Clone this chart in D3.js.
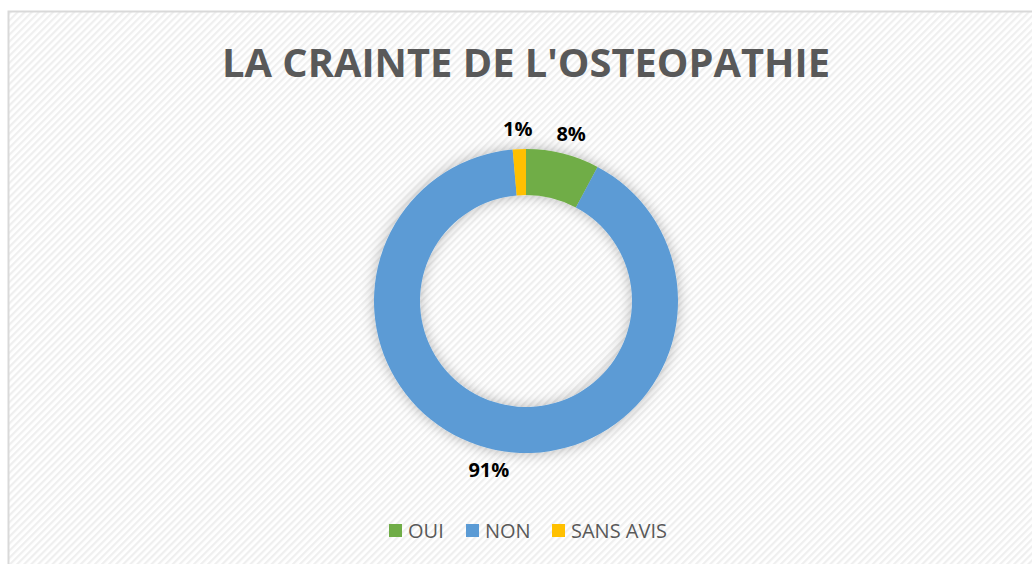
<!DOCTYPE html>
<html>
<head>
<meta charset="utf-8">
<script src="https://cdn.jsdelivr.net/npm/d3@7.9.0/dist/d3.min.js"></script>
<style>
  body { margin: 0; background: #fff; }
  svg { display: block; }
</style>
</head>
<body>
<svg id="chart"></svg>
<script>
let categories = ['OUI', 'NON', 'SANS AVIS'];
let values = [7.8, 90.8, 1.4];
let colors = ['#70ad47', '#5b9bd5', '#ffc000'];
let title = "LA CRAINTE DE L'OSTEOPATHIE";

let W = 1032, H = 564;
let svg = d3.select('#chart').attr('width', W).attr('height', H);

let defs = svg.append('defs');
let pat = defs.append('pattern')
  .attr('id', 'hatch')
  .attr('width', 5).attr('height', 5)
  .attr('patternUnits', 'userSpaceOnUse')
  .attr('patternTransform', 'rotate(-45)');
pat.append('rect').attr('width', 5).attr('height', 5).attr('fill', '#ffffff');
pat.append('rect').attr('width', 5).attr('height', 2.2).attr('fill', '#efefef');

let shadow = defs.append('filter').attr('id', 'glow')
  .attr('x', '-30%').attr('y', '-30%').attr('width', '160%').attr('height', '160%');
shadow.append('feDropShadow')
  .attr('dx', 0).attr('dy', 0)
  .attr('stdDeviation', 7)
  .attr('flood-color', '#000')
  .attr('flood-opacity', 0.28);

// chart area with border
svg.append('rect')
  .attr('x', 8.5).attr('y', 11.5)
  .attr('width', W + 10).attr('height', H + 10)
  .attr('fill', 'url(#hatch)')
  .attr('stroke', '#d9d9d9')
  .attr('stroke-width', 2);

svg.append('text')
  .attr('x', 526).attr('y', 77)
  .attr('text-anchor', 'middle')
  .attr('font-family', 'Open Sans, sans-serif')
  .attr('font-weight', 'bold')
  .attr('font-size', 40)
  .attr('fill', '#595959')
  .attr('textLength', 608)
  .attr('lengthAdjust', 'spacingAndGlyphs')
  .text(title);

let cx = 526, cy = 301, rOuter = 152, rInner = 106;
let g = svg.append('g').attr('transform', `translate(${cx},${cy})`);

let pie = d3.pie().sort(null).value(d => d);
let arcs = pie(values);
let arc = d3.arc().innerRadius(rInner).outerRadius(rOuter);

g.append('g')
  .attr('filter', 'url(#glow)')
  .selectAll('path')
  .data(arcs)
  .join('path')
  .attr('d', arc)
  .attr('fill', (d, i) => colors[i]);

// outside-end labels, pushed out a little along their angle
let pct = d3.format('.0%');
g.selectAll('text.lbl')
  .data(arcs)
  .join('text')
  .attr('class', 'lbl')
  .attr('transform', d => {
    let a = (d.startAngle + d.endAngle) / 2;
    let r = 172;
    let x = Math.sin(a) * r + Math.sin(a) * 14;
    let y = -Math.cos(a) * r;
    return `translate(${x},${y})`;
  })
  .attr('text-anchor', 'middle')
  .attr('dy', '0.35em')
  .attr('font-family', 'Open Sans, sans-serif')
  .attr('font-weight', 'bold')
  .attr('font-size', 20)
  .attr('fill', '#000')
  .text(d => pct(Math.round(d.data) / 100));

// legend
let legendX = [389, 466, 552];
let legend = svg.append('g');
let items = legend.selectAll('g')
  .data(categories)
  .join('g')
  .attr('transform', (d, i) => `translate(${legendX[i]},524)`);
items.append('rect')
  .attr('width', 13).attr('height', 13)
  .attr('fill', (d, i) => colors[i]);
items.append('text')
  .attr('x', 19).attr('y', 14)
  .attr('font-family', 'Open Sans, sans-serif')
  .attr('font-size', 20)
  .attr('fill', '#595959')
  .text(d => d);
</script>
</body>
</html>
